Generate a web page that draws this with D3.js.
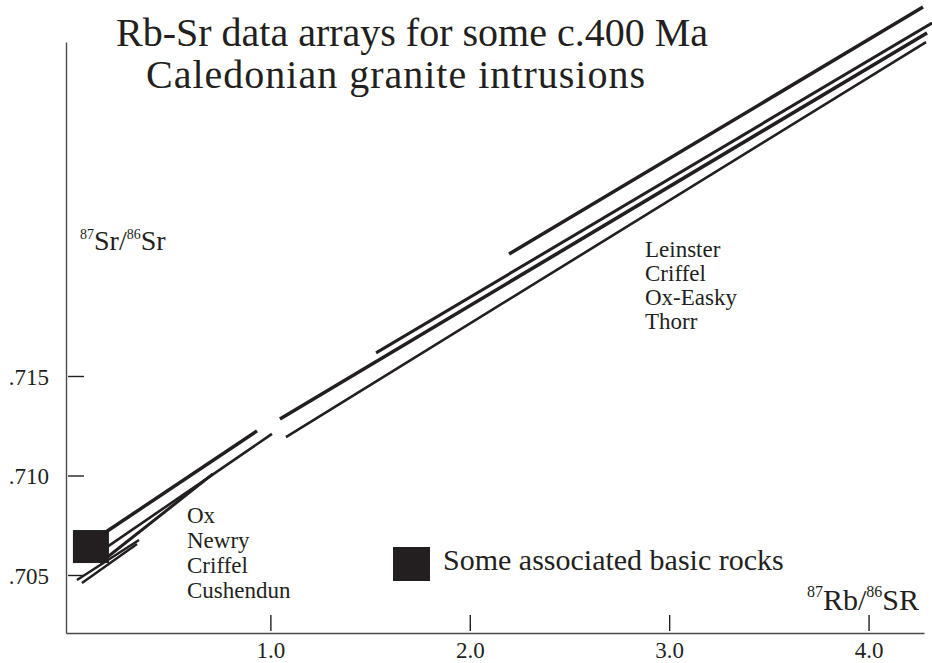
<!DOCTYPE html>
<html>
<head>
<meta charset="utf-8">
<script src="https://cdnjs.cloudflare.com/ajax/libs/d3/7.8.5/d3.min.js"></script>
<style>
body { margin: 0; background: #fff; }
text { font-family: "Liberation Serif", "Times New Roman", serif; fill: #231f20; }
</style>
</head>
<body>
<div id="chart"></div>
<script>
// Rb-Sr isochron arrays: [x1, y1, x2, y2] as (87Rb/86Sr, 87Sr/86Sr)
var lowerNames = ["Ox", "Newry", "Criffel", "Cushendun"];
var upperNames = ["Leinster", "Criffel", "Ox-Easky", "Thorr"];

var lowerArrays = [
    [0.145, 0.70696, 0.933, 0.71224],
    [0.145, 0.70616, 1.008, 0.71209],
    [0.145, 0.70560, 0.712, 0.71008],
    [0.030, 0.70475, 0.341, 0.70676],
    [0.055, 0.70460, 0.331, 0.70656]
];
var upperArrays = [
    [2.197, 0.72113, 4.273, 0.73354],
    [1.530, 0.71616, 4.318, 0.73274],
    [1.048, 0.71284, 4.293, 0.73224],
    [1.078, 0.71193, 4.288, 0.73178]
];
var basicRocks = [[0.10, 0.70643]];

var xTicks = [1, 2, 3, 4];
var yTicks = [0.705, 0.710, 0.715];
var xTickLabels = ["1.0", "2.0", "3.0", "4.0"];
var yTickLabels = [".705", ".710", ".715"];

var svgWidth = 932;
var svgHeight = 663;
var ink = "#231f20";

var svg = d3.select("#chart")
    .append("svg")
    .attr("width", svgWidth)
    .attr("height", svgHeight);

var xScale = d3.scaleLinear()
    .domain([-0.025, 4.278])
    .range([66, 924]);

var yScale = d3.scaleLinear()
    .domain([0.702085, 0.731784])
    .range([633, 42]);

// axes
var bottomAxis = d3.axisBottom(xScale)
    .tickValues(xTicks)
    .tickSizeOuter(0)
    .tickFormat((d, i) => xTickLabels[i]);

var leftAxis = d3.axisLeft(yScale)
    .tickValues(yTicks)
    .tickSizeOuter(0)
    .tickFormat((d, i) => yTickLabels[i]);

var gx = svg.append("g")
    .attr("transform", "translate(0,633)")
    .call(bottomAxis);

var gy = svg.append("g")
    .attr("transform", "translate(66,0)")
    .call(leftAxis);

[gx, gy].forEach(function (g) {
    g.select(".domain").attr("stroke", "#4a4a4a").attr("stroke-width", 1.4);
    g.selectAll(".tick line").attr("stroke", ink).attr("stroke-width", 1.4);
    g.selectAll(".tick text")
        .attr("font-family", "Liberation Serif, serif")
        .attr("font-size", 23)
        .attr("fill", ink);
});

gx.selectAll(".tick line").attr("y1", -2).attr("y2", -18);
gx.selectAll(".tick text").attr("y", 25).attr("dy", 0);

gy.selectAll(".tick line").attr("x1", 2).attr("x2", 18);
gy.selectAll(".tick text").attr("x", -17).attr("dy", "0.35em");

// data arrays
function drawArrays(data, widthFor) {
    svg.append("g")
        .selectAll("line")
        .data(data)
        .enter()
        .append("line")
        .attr("x1", d => xScale(d[0]))
        .attr("y1", d => yScale(d[1]))
        .attr("x2", d => xScale(d[2]))
        .attr("y2", d => yScale(d[3]))
        .attr("stroke", ink)
        .attr("stroke-width", widthFor);
}

drawArrays(lowerArrays, (d, i) => [3.5, 2.6, 3, 2.5, 2.5][i]);
drawArrays(upperArrays, (d, i) => [3.5, 3, 3.6, 2.6][i]);

// basic rocks
svg.selectAll(".rock")
    .data(basicRocks)
    .enter()
    .append("rect")
    .attr("class", "rock")
    .attr("x", d => xScale(d[0]) - 18)
    .attr("y", d => yScale(d[1]) - 16.5)
    .attr("width", 36)
    .attr("height", 33)
    .attr("fill", ink);

// title
svg.append("text")
    .attr("x", 412)
    .attr("y", 46)
    .attr("text-anchor", "middle")
    .attr("font-size", 40)
    .text("Rb-Sr data arrays for some c.400 Ma");

svg.append("text")
    .attr("x", 396)
    .attr("y", 88)
    .attr("text-anchor", "middle")
    .attr("font-size", 40)
    .attr("letter-spacing", 1)
    .text("Caledonian granite intrusions");

// axis titles
var yLabel = svg.append("text")
    .attr("x", 80)
    .attr("y", 250)
    .attr("font-size", 28);
yLabel.append("tspan").attr("font-size", 14).attr("dy", -11).text("87");
yLabel.append("tspan").attr("dy", 11).text("Sr/");
yLabel.append("tspan").attr("font-size", 14).attr("dy", -11).text("86");
yLabel.append("tspan").attr("dy", 11).text("Sr");

var xLabel = svg.append("text")
    .attr("x", 919)
    .attr("y", 610)
    .attr("text-anchor", "end")
    .attr("font-size", 30);
xLabel.append("tspan").attr("font-size", 16).attr("dy", -13).text("87");
xLabel.append("tspan").attr("dy", 13).text("Rb/");
xLabel.append("tspan").attr("font-size", 16).attr("dy", -13).text("86");
xLabel.append("tspan").attr("dy", 13).text("SR");

// group names
svg.append("g")
    .selectAll("text")
    .data(lowerNames)
    .enter()
    .append("text")
    .attr("x", 187)
    .attr("y", (d, i) => 523 + i * 25)
    .attr("font-size", 23)
    .text(d => d);

svg.append("g")
    .selectAll("text")
    .data(upperNames)
    .enter()
    .append("text")
    .attr("x", 645)
    .attr("y", (d, i) => 257 + i * 24)
    .attr("font-size", 23)
    .text(d => d);

// legend
svg.append("rect")
    .attr("x", 393)
    .attr("y", 547)
    .attr("width", 37)
    .attr("height", 34)
    .attr("fill", ink);

svg.append("text")
    .attr("x", 443)
    .attr("y", 570)
    .attr("font-size", 30)
    .text("Some associated basic rocks");
</script>
</body>
</html>
